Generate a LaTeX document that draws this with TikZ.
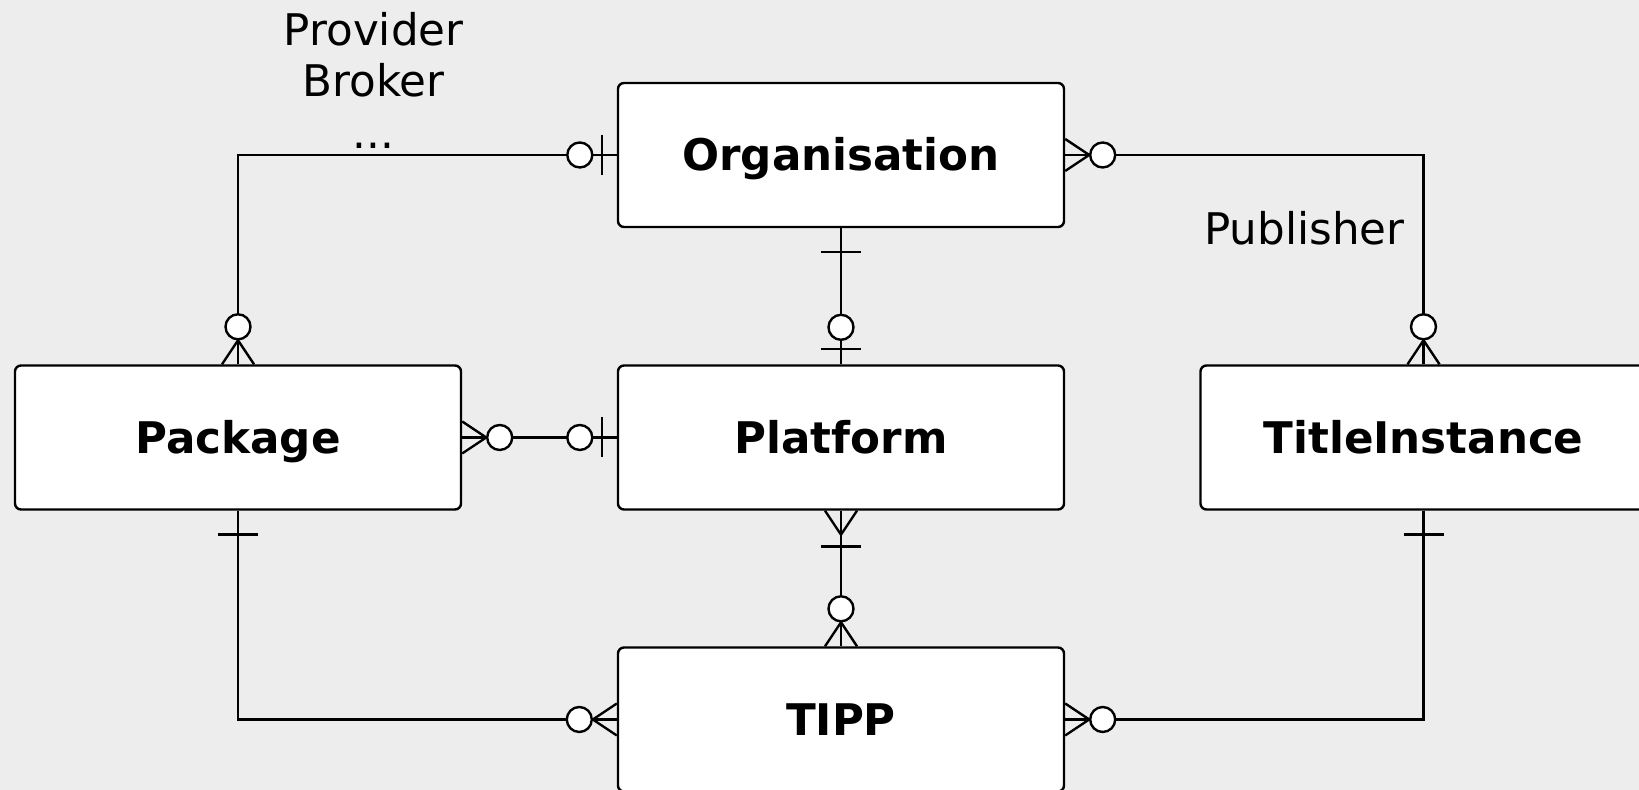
\documentclass[tikz,border=0pt]{standalone}
\usepackage{fontspec}
\setmainfont{DejaVu Sans}
\definecolor{paper}{RGB}{237,237,237}

\begin{document}
\begin{tikzpicture}[x=0.5pt, y=0.5pt, line width=1.2pt]
    \tikzset{entity/.style={draw, fill=white, rounded corners=3pt, minimum width=223pt, minimum height=72pt, text height=15.9pt, text depth=0pt, font=\fontsize{21.8}{26}\selectfont\bfseries}}
    \tikzset{role/.style={inner sep=0pt, align=center, font=\fontsize{21.8}{25.8}\selectfont}}
    %% crow's foot ends, drawn from the box edge outwards along +x
    \tikzset{zeromany/.pic={\draw (0,16) -- (24,0) -- (0,-16); \draw[fill=white] (37.5,0) circle (12.5);},
             zeroone/.pic={\draw (15,-20) -- (15,20); \draw[fill=white] (37,0) circle (12.5);},
             onlyone/.pic={\draw (24,-20) -- (24,20);},
             onemany/.pic={\draw (0,16) -- (24,0) -- (0,-16); \draw (36,-20) -- (36,20);}}

    \fill[paper] (0,0) rectangle (1639,790);
    \useasboundingbox (0,0) rectangle (1639,790);

    \node[entity] (org)  at (841,635)    {Organisation};
    \node[entity] (pkg)  at (238,352.5)  {Package};
    \node[entity] (plat) at (841,352.5)  {Platform};
    \node[entity] (ti)   at (1423.5,352.5) {TitleInstance};
    \node[entity] (tipp) at (841,70.5)   {TIPP};

    \node[role, anchor=base] (prov) at (373.7,641.7) {Provider\\Broker\\...};
    \node[role, anchor=base] (publ) at (1304.5,545.4) {Publisher};

    % \draw[very thin,color=gray] (0,0) grid[step=100] (1639,790);

    \draw (org.west) -| (pkg.north);
    \draw (org.east) -| (ti.north);
    \draw (org.south) -- (plat.north);
    \draw (pkg.east) -- (plat.west);
    \draw (plat.south) -- (tipp.north);
    \draw (pkg.south) |- (tipp.west);
    \draw (ti.south) |- (tipp.east);

    \foreach \a/\r/\p in {org.west/180/zeroone, pkg.north/90/zeromany,
                          org.east/0/zeromany, ti.north/90/zeromany,
                          org.south/-90/onlyone, plat.north/90/zeroone,
                          pkg.east/0/zeromany, plat.west/180/zeroone,
                          plat.south/-90/onemany, tipp.north/90/zeromany,
                          pkg.south/-90/onlyone, tipp.west/180/zeromany,
                          ti.south/-90/onlyone, tipp.east/0/zeromany} {
            \pic[rotate=\r] at (\a) {\p};
        }
\end{tikzpicture}
\end{document}
